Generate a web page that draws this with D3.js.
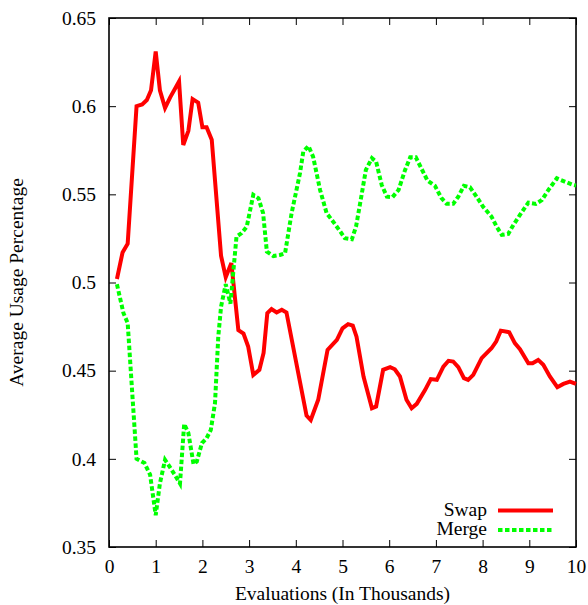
<!DOCTYPE html>
<html>
<head>
<meta charset="utf-8">
<script src="https://cdn.jsdelivr.net/npm/d3@7"></script>
<style>
  body { margin: 0; background: #fff; }
  svg text { font-family: "Liberation Serif", "DejaVu Serif", serif; font-size: 19.5px; fill: #000; }
</style>
</head>
<body>
<script>
// Swap series (evaluations in thousands, usage)
var swapX = [0.17, 0.29, 0.40, 0.59, 0.71, 0.81, 0.90, 1.0, 1.09, 1.2, 1.31, 1.5, 1.59, 1.70, 1.79, 1.91, 2.0, 2.09, 2.2, 2.4, 2.5, 2.62,
  2.77, 2.88, 2.98, 3.09, 3.22, 3.31, 3.39, 3.48, 3.59, 3.70, 3.80, 4.23, 4.32, 4.48, 4.68, 4.88, 5.0, 5.12, 5.22, 5.30, 5.45,
  5.63, 5.72, 5.87, 6.02, 6.12, 6.23, 6.37, 6.48, 6.59, 6.77, 6.89, 7.02, 7.16, 7.27, 7.37, 7.48, 7.60, 7.69, 7.80, 7.98, 8.19,
  8.29, 8.39, 8.57, 8.69, 8.80, 8.98, 9.07, 9.19, 9.30, 9.44, 9.60, 9.73, 9.87, 10.0];
var swapY = [0.502, 0.517, 0.522, 0.600, 0.601, 0.6035, 0.609, 0.631, 0.609, 0.599, 0.605, 0.614, 0.578, 0.586, 0.604, 0.602, 0.588, 0.588, 0.581, 0.515, 0.503, 0.511,
  0.473, 0.471, 0.4637, 0.4476, 0.4505, 0.460, 0.4826, 0.4849, 0.483, 0.4845, 0.483, 0.4245, 0.422, 0.4335, 0.4618, 0.4675, 0.474, 0.4764, 0.4756, 0.4693, 0.4467,
  0.4287, 0.4297, 0.4505, 0.452, 0.4508, 0.4467, 0.4335, 0.4287, 0.4312, 0.4391, 0.4452, 0.4448, 0.4523, 0.4556, 0.4552, 0.452, 0.4458, 0.4448, 0.4476, 0.4571, 0.4627,
  0.4665, 0.4727, 0.4718, 0.4656, 0.4622, 0.4542, 0.4542, 0.4561, 0.4533, 0.4467, 0.4406, 0.4425, 0.4438, 0.4425];

// Merge series
var mergeX = [0.17, 0.31, 0.40, 0.59, 0.76, 0.88, 1.0, 1.09, 1.2, 1.34, 1.43, 1.52, 1.61, 1.70, 1.81, 1.88, 1.99, 2.09, 2.18, 2.27, 2.34, 2.40, 2.50, 2.60,
  2.73, 2.84, 2.95, 3.09, 3.2, 3.30, 3.38, 3.52, 3.66, 3.77, 3.91, 4.09, 4.16, 4.27, 4.37, 4.52, 4.66, 4.80, 4.95, 5.05, 5.2, 5.29, 5.39, 5.50,
  5.63, 5.72, 5.84, 5.95, 6.07, 6.20, 6.34, 6.45, 6.57, 6.67, 6.82, 6.98, 7.12, 7.23, 7.37, 7.48, 7.60, 7.73, 7.87, 8.01, 8.19, 8.30, 8.41,
  8.55, 8.66, 8.80, 8.98, 9.14, 9.27, 9.41, 9.59, 9.76, 9.94, 10.0];
var mergeY = [0.499, 0.4826, 0.477, 0.400, 0.3976, 0.391, 0.368, 0.386, 0.3994, 0.3938, 0.390, 0.386, 0.4198, 0.4146, 0.397, 0.3985, 0.4089, 0.4117, 0.4164, 0.4316, 0.4693, 0.4864, 0.499, 0.488,
  0.526, 0.528, 0.5317, 0.5497, 0.5478, 0.5393, 0.5175, 0.515, 0.5156, 0.5166, 0.5393, 0.562, 0.5742, 0.5774, 0.5714, 0.5525, 0.5393, 0.5345, 0.529, 0.5251, 0.5245, 0.5317, 0.5468, 0.5638,
  0.5705, 0.5685, 0.5553, 0.5487, 0.5484, 0.5525, 0.5638, 0.571, 0.571, 0.5657, 0.5578, 0.5548, 0.5478, 0.5446, 0.5446, 0.5487, 0.5548, 0.554, 0.5487, 0.543, 0.5374, 0.5317, 0.527,
  0.5276, 0.5327, 0.5383, 0.5453, 0.5446, 0.5468, 0.5525, 0.5591, 0.5572, 0.5553, 0.555];

var xTicks = [0, 1, 2, 3, 4, 5, 6, 7, 8, 9, 10];
var yTicks = [0.35, 0.4, 0.45, 0.5, 0.55, 0.6, 0.65];
var seriesNames = ["Swap", "Merge"];

var width = 588;
var height = 605;
var plotLeft = 109, plotRight = 576, plotTop = 18, plotBottom = 547;
var tickLen = 7;

var svg = d3.select("body").append("svg")
  .attr("width", width)
  .attr("height", height);

var xScale = d3.scaleLinear().domain([0, 10]).range([plotLeft, plotRight]);
var yScale = d3.scaleLinear().domain([0.35, 0.65]).range([plotBottom, plotTop]);

// tick marks on all four sides, pointing inward
var xAxisBottom = d3.axisBottom(xScale).tickValues(xTicks).tickSize(-tickLen).tickPadding(12).tickFormat(d3.format("d"));
var xAxisTop = d3.axisTop(xScale).tickValues(xTicks).tickSize(-tickLen).tickFormat("");
var yAxisLeft = d3.axisLeft(yScale).tickValues(yTicks).tickSize(-tickLen).tickPadding(13).tickFormat(d => String(+d.toFixed(2)));
var yAxisRight = d3.axisRight(yScale).tickValues(yTicks).tickSize(-tickLen).tickFormat("");

function styleAxis(g) {
  g.select(".domain").remove();
  g.selectAll(".tick line").attr("stroke", "#000").attr("stroke-width", 1);
  g.selectAll("text").attr("font-family", null).attr("font-size", null);
}

svg.append("g").attr("transform", "translate(0," + plotBottom + ")").call(xAxisBottom).call(styleAxis);
svg.append("g").attr("transform", "translate(0," + plotTop + ")").call(xAxisTop).call(styleAxis);
svg.append("g").attr("transform", "translate(" + plotLeft + ",0)").call(yAxisLeft).call(styleAxis);
svg.append("g").attr("transform", "translate(" + plotRight + ",0)").call(yAxisRight).call(styleAxis);

// frame
svg.append("rect")
  .attr("x", plotLeft).attr("y", plotTop)
  .attr("width", plotRight - plotLeft).attr("height", plotBottom - plotTop)
  .attr("fill", "none").attr("stroke", "#000").attr("stroke-width", 1.6);

var line = d3.line().x(d => xScale(d[0])).y(d => yScale(d[1]));

var swapData = swapX.map((x, i) => [x, swapY[i]]);
var mergeData = mergeX.map((x, i) => [x, mergeY[i]]);

svg.append("path")
  .datum(swapData)
  .attr("d", line)
  .attr("fill", "none")
  .attr("stroke", "#ff0000")
  .attr("stroke-width", 4);

svg.append("path")
  .datum(mergeData)
  .attr("d", line)
  .attr("fill", "none")
  .attr("stroke", "#00ff00")
  .attr("stroke-width", 4)
  .attr("stroke-dasharray", "4.5,2.5");

// legend
var legend = svg.append("g");
var legendStyles = [
  { color: "#ff0000", dash: null },
  { color: "#00ff00", dash: "4.5,2.5" }
];
seriesNames.forEach(function(name, i) {
  var y = 510.5 + i * 19.5;
  legend.append("text")
    .attr("x", 487)
    .attr("y", y + 5)
    .attr("text-anchor", "end")
    .text(name);
  legend.append("line")
    .attr("x1", 498).attr("x2", 553)
    .attr("y1", y).attr("y2", y)
    .attr("stroke", legendStyles[i].color)
    .attr("stroke-width", 4)
    .attr("stroke-dasharray", legendStyles[i].dash);
});

// axis labels
svg.append("text")
  .attr("x", (plotLeft + plotRight) / 2)
  .attr("y", 600)
  .attr("text-anchor", "middle")
  .text("Evaluations (In Thousands)");

svg.append("text")
  .attr("transform", "translate(23," + ((plotTop + plotBottom) / 2) + ") rotate(-90)")
  .attr("text-anchor", "middle")
  .text("Average Usage Percentage");
</script>
</body>
</html>
